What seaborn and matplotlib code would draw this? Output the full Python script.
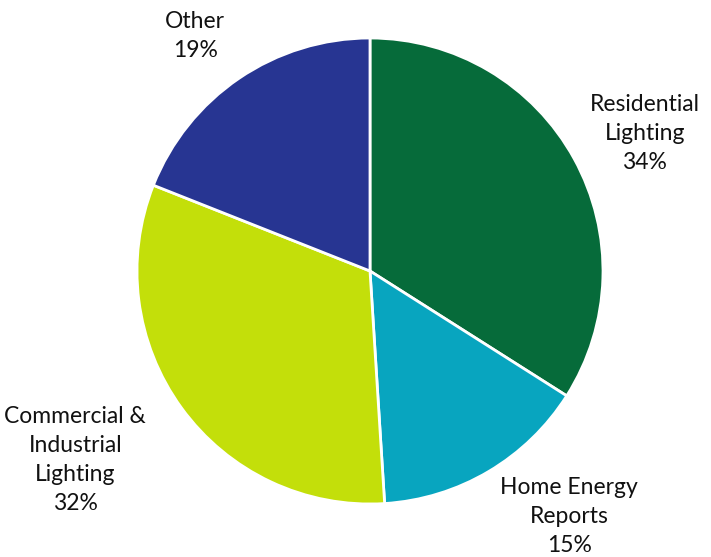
import matplotlib
matplotlib.use("Agg")
import matplotlib.pyplot as plt
import seaborn as sns
import numpy as np

categories = ["Residential\nLighting", "Home Energy\nReports", "Commercial &\nIndustrial\nLighting", "Other"]
shares = [34, 15, 32, 19]
colors = ["#066B3A", "#08A5BF", "#C3DF0A", "#273592"]

# label anchor positions (axes data units, pie radius = 1)
label_xy = [(1.18, 0.59), (0.855, -1.055), (-1.265, -0.81), (-0.75, 1.01)]

sns.set_theme(style="white")
plt.rcParams["font.family"] = ["Lato", "DejaVu Sans"]

W, H = 711, 557
fig = plt.figure(figsize=(W / 100, H / 100), dpi=100)
cx, cy, r = 370, 271, 233
ax = fig.add_axes([(cx - r) / W, 1 - (cy + r) / H, 2 * r / W, 2 * r / H])

ax.pie(shares, colors=colors, startangle=90, counterclock=False, radius=1,
       wedgeprops=dict(edgecolor="white", linewidth=2.0))
ax.set_xlim(-1, 1)
ax.set_ylim(-1, 1)
ax.set_aspect("equal")
ax.axis("off")

for name, val, (x, y) in zip(categories, shares, label_xy):
    ax.text(x, y, f"{name}\n{val}%", ha="center", va="center", fontsize=16.5,
            color="#111111", linespacing=1.47, clip_on=False)

fig.savefig("out.png", dpi=100, facecolor="white")
